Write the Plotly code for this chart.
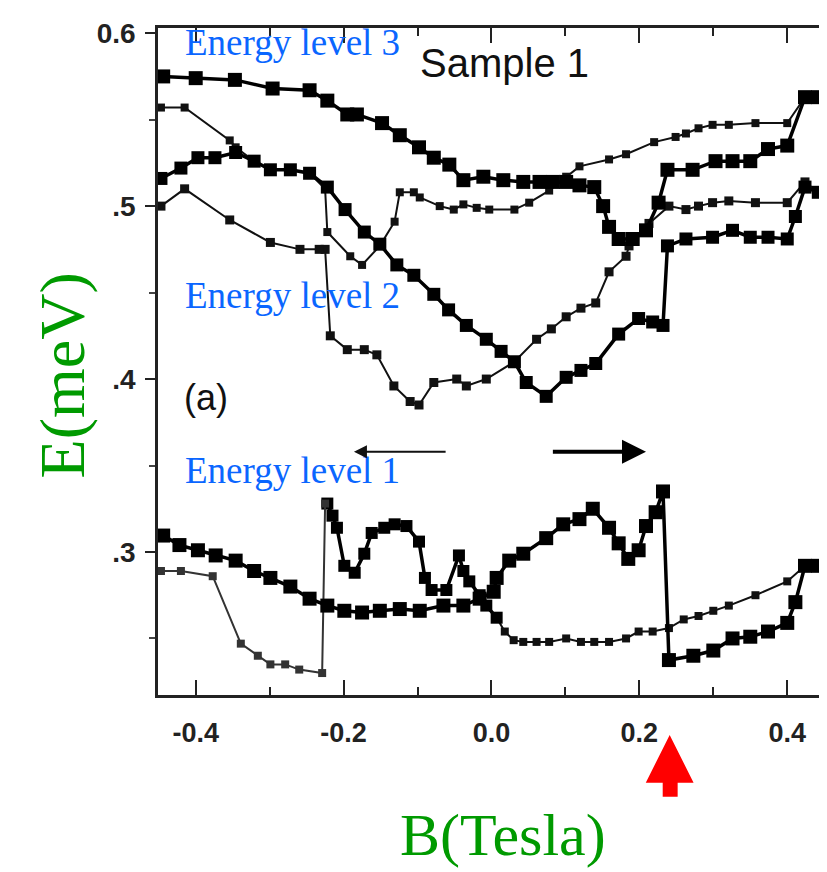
import plotly.graph_objects as go

# ---------------- data ----------------
# Energy level 3, sweep to the right (thick, large squares)
level3_up_x = [-0.444, -0.400, -0.347, -0.296, -0.246, -0.222, -0.195, -0.182, -0.148, -0.124, -0.098, -0.078,
               -0.057, -0.038, -0.011, 0.016, 0.043, 0.065, 0.083, 0.101, 0.119, 0.139, 0.151, 0.159, 0.172,
               0.191, 0.209, 0.226, 0.238, 0.272, 0.303, 0.326, 0.350, 0.374, 0.400, 0.424, 0.442]
level3_up_y = [0.575, 0.574, 0.573, 0.568, 0.567, 0.561, 0.553, 0.553, 0.548, 0.541, 0.534, 0.528,
               0.524, 0.515, 0.517, 0.515, 0.514, 0.514, 0.514, 0.514, 0.512, 0.511, 0.500, 0.488, 0.481,
               0.481, 0.486, 0.502, 0.521, 0.521, 0.526, 0.526, 0.526, 0.533, 0.535, 0.563, 0.563]

# Energy level 3, sweep to the left (thin, small squares)
level3_down_x = [0.442, 0.424, 0.400, 0.357, 0.321, 0.299, 0.280, 0.263, 0.249, 0.220, 0.182, 0.159, 0.119,
                 0.101, 0.078, 0.051, 0.031, -0.003, -0.020, -0.038, -0.051, -0.070, -0.097, -0.105, -0.124,
                 -0.131, -0.151, -0.175, -0.191, -0.222, -0.225, -0.246, -0.272, -0.299, -0.321, -0.346,
                 -0.354, -0.415, -0.447]
level3_down_y = [0.563, 0.563, 0.548, 0.548, 0.547, 0.547, 0.545, 0.542, 0.540, 0.537, 0.530, 0.527, 0.523,
                 0.517, 0.509, 0.502, 0.498, 0.498, 0.499, 0.501, 0.498, 0.500, 0.505, 0.508, 0.508,
                 0.491, 0.477, 0.466, 0.471, 0.485, 0.510, 0.519, 0.521, 0.521, 0.526, 0.534,
                 0.538, 0.557, 0.557]

# Energy level 2, sweep to the right (thick)
level2_up_x = [-0.447, -0.420, -0.397, -0.374, -0.346, -0.321, -0.299, -0.272, -0.246, -0.222, -0.198, -0.172,
               -0.151, -0.128, -0.105, -0.078, -0.058, -0.034, -0.007, 0.013, 0.031, 0.047, 0.074, 0.101,
               0.121, 0.141, 0.172, 0.199, 0.218, 0.232, 0.238, 0.263, 0.299, 0.326, 0.350, 0.374, 0.400,
               0.411, 0.424, 0.442]
level2_up_y = [0.516, 0.522, 0.528, 0.528, 0.531, 0.526, 0.521, 0.521, 0.519, 0.511, 0.498, 0.485,
               0.478, 0.466, 0.460, 0.449, 0.440, 0.431, 0.423, 0.416, 0.410, 0.398, 0.390, 0.401,
               0.405, 0.409, 0.426, 0.435, 0.433, 0.431, 0.477, 0.481, 0.482, 0.486, 0.482, 0.482, 0.481,
               0.494, 0.511, 0.508]

# Energy level 2, sweep to the left (thin)
level2_down_x = [0.442, 0.424, 0.400, 0.357, 0.321, 0.299, 0.280, 0.263, 0.240, 0.213, 0.186, 0.182, 0.159,
                 0.141, 0.121, 0.101, 0.081, 0.061, 0.031, -0.007, -0.034, -0.047, -0.078, -0.098, -0.110,
                 -0.132, -0.155, -0.172, -0.195, -0.218, -0.225, -0.233, -0.259, -0.299, -0.354, -0.415, -0.447]
level2_down_y = [0.508, 0.514, 0.502, 0.502, 0.503, 0.502, 0.500, 0.498, 0.500, 0.490, 0.477, 0.471, 0.462,
                 0.444, 0.441, 0.436, 0.429, 0.423, 0.410, 0.400, 0.396, 0.400, 0.398, 0.385, 0.387,
                 0.396, 0.414, 0.417, 0.417, 0.425, 0.475, 0.475, 0.475, 0.479, 0.492, 0.510, 0.500]

# Energy level 1, sweep to the right (thick)
level1_up_x = [-0.444, -0.422, -0.397, -0.373, -0.346, -0.321, -0.299, -0.272, -0.246, -0.222, -0.199, -0.175,
               -0.151, -0.124, -0.097, -0.065, -0.038, -0.016, 0.003, 0.007, 0.024, 0.043, 0.074, 0.097,
               0.119, 0.137, 0.159, 0.172, 0.185, 0.199, 0.209, 0.222, 0.232, 0.240, 0.273, 0.300, 0.326,
               0.350, 0.374, 0.400, 0.411, 0.424, 0.442]
level1_up_y = [0.3095, 0.304, 0.301, 0.298, 0.295, 0.289, 0.285, 0.280, 0.273, 0.269, 0.266, 0.265,
               0.266, 0.267, 0.266, 0.269, 0.269, 0.273, 0.277, 0.285, 0.295, 0.299, 0.308, 0.316,
               0.319, 0.325, 0.314, 0.305, 0.296, 0.301, 0.315, 0.323, 0.335, 0.2375, 0.240, 0.243, 0.250,
               0.251, 0.254, 0.259, 0.271, 0.292, 0.292]

# Energy level 1, sweep to the left (thin), in three pieces
level1_down_x_a = [0.442, 0.424, 0.400, 0.357, 0.321, 0.300, 0.280, 0.260, 0.240, 0.218, 0.199, 0.182, 0.159,
                   0.139, 0.121, 0.101, 0.078, 0.061, 0.043, 0.030, 0.018, 0.007]
level1_down_y_a = [0.292, 0.292, 0.283, 0.275, 0.269, 0.266, 0.263, 0.261, 0.256, 0.254, 0.254, 0.250, 0.248,
                   0.248, 0.248, 0.250, 0.248, 0.248, 0.248, 0.249, 0.254, 0.262]
level1_down_x_b = [0.007, -0.007, -0.016, -0.030, -0.038, -0.044, -0.061, -0.081, -0.090, -0.098, -0.115,
                   -0.131, -0.145, -0.162, -0.172, -0.185, -0.199, -0.209, -0.215, -0.222]
level1_down_y_b = [0.262, 0.269, 0.275, 0.283, 0.289, 0.298, 0.278, 0.278, 0.285, 0.306, 0.315,
                   0.316, 0.314, 0.311, 0.299, 0.288, 0.292, 0.314, 0.321, 0.328]
level1_down_x_c = [-0.225, -0.229, -0.260, -0.279, -0.299, -0.316, -0.339, -0.377, -0.420, -0.447]
level1_down_y_c = [0.328, 0.230, 0.232, 0.235, 0.235, 0.240, 0.247, 0.286, 0.289, 0.289]

x_tick_values = [-0.4, -0.2, 0.0, 0.2, 0.4]
x_tick_labels = ["-0.4", "-0.2", "0.0", "0.2", "0.4"]
y_tick_values = [0.3, 0.4, 0.5, 0.6]
y_tick_labels = [".3", ".4", ".5", "0.6"]

# ---------------- figure ----------------
fig = go.Figure()

def add(xs, ys, width, size, color="#000000"):
    fig.add_trace(go.Scatter(
        x=xs, y=ys, mode="lines+markers",
        line=dict(color=color, width=width),
        marker=dict(symbol="square", size=size, color=color, line=dict(width=0)),
        hoverinfo="skip", cliponaxis=True))

add(level3_down_x, level3_down_y, 2, 8, "#111111")
add(level2_down_x, level2_down_y, 2, 9, "#111111")
add(level1_down_x_a, level1_down_y_a, 2, 8, "#111111")
add(level1_down_x_b, level1_down_y_b, 3.5, 12)
add(level1_down_x_c, level1_down_y_c, 2, 8, "#333333")
add(level3_up_x, level3_up_y, 3.5, 14)
add(level2_up_x, level2_up_y, 3.5, 13)
add(level1_up_x, level1_up_y, 3.5, 14)

serif = "Liberation Serif, Times New Roman, serif"
sans = "Liberation Sans, Arial, sans-serif"
blue = "#0a66ff"
green = "#009a00"

annotations = [
    dict(x=-0.4175, y=0.5945, xref="x", yref="y", text="Energy level 3", showarrow=False,
         xanchor="left", yanchor="middle", font=dict(family=serif, size=37, color=blue)),
    dict(x=-0.4175, y=0.4482, xref="x", yref="y", text="Energy level 2", showarrow=False,
         xanchor="left", yanchor="middle", font=dict(family=serif, size=37, color=blue)),
    dict(x=-0.4175, y=0.3474, xref="x", yref="y", text="Energy level 1", showarrow=False,
         xanchor="left", yanchor="middle", font=dict(family=serif, size=37, color=blue)),
    dict(x=0.0175, y=0.5825, xref="x", yref="y", text="Sample 1", showarrow=False,
         xanchor="center", yanchor="middle", font=dict(family=sans, size=40, color="#111111")),
    dict(x=-0.3865, y=0.3894, xref="x", yref="y", text="(a)", showarrow=False,
         xanchor="center", yanchor="middle", font=dict(family=sans, size=36, color="#111111")),
    # sweep-direction arrows
    dict(x=-0.186, y=0.358, ax=-0.06, ay=0.358, xref="x", yref="y", axref="x", ayref="y",
         text="", showarrow=True, arrowhead=2, arrowsize=1.3, arrowwidth=2, arrowcolor="#111111"),
    dict(x=0.209, y=0.358, ax=0.081, ay=0.358, xref="x", yref="y", axref="x", ayref="y",
         text="", showarrow=True, arrowhead=2, arrowsize=1.2, arrowwidth=4, arrowcolor="#000000"),
    # axis titles
    dict(x=-0.1424, y=0.4798, xref="paper", yref="paper", text="E(meV)", showarrow=False,
         textangle=-90, xanchor="center", yanchor="middle", font=dict(family=serif, size=64, color=green)),
    dict(x=0.520, y=-0.2095, xref="paper", yref="paper", text="B(Tesla)", showarrow=False,
         xanchor="center", yanchor="middle", font=dict(family=serif, size=60, color=green)),
]

# red up-arrow below the x axis
shapes = [dict(type="path", xref="paper", yref="paper",
               path="M 0.7706 -0.0598 L 0.8066 -0.1316 L 0.7826 -0.1316 L 0.7826 -0.1525 "
                    "L 0.7601 -0.1525 L 0.7601 -0.1316 L 0.7346 -0.1316 Z",
               fillcolor="#ff0000", line=dict(width=0))]

fig.update_layout(
    width=827, height=872,
    margin=dict(l=150, r=10, t=18, b=185),
    paper_bgcolor="white", plot_bgcolor="white",
    showlegend=False,
    annotations=annotations,
    shapes=shapes,
    xaxis=dict(range=[-0.451, 0.447], tickmode="array", tickvals=x_tick_values, ticktext=x_tick_labels,
               ticks="inside", ticklen=15, tickwidth=2, tickcolor="#222222",
               minor=dict(tickmode="linear", tick0=0, dtick=0.1, ticks="inside", ticklen=8,
                          tickwidth=2, tickcolor="#222222"),
               showline=True, linewidth=2.5, linecolor="#222222", mirror="ticks",
               showgrid=False, zeroline=False, ticklabelstandoff=12,
               tickfont=dict(family=sans, size=27, color="#222222", weight="bold")),
    yaxis=dict(range=[0.2173, 0.603], tickmode="array", tickvals=y_tick_values, ticktext=y_tick_labels,
               ticks="outside", ticklen=10, tickwidth=2, tickcolor="#222222",
               minor=dict(tickmode="linear", tick0=0, dtick=0.05, ticks="outside", ticklen=6,
                          tickwidth=2, tickcolor="#444444"),
               showline=True, linewidth=2.5, linecolor="#222222", mirror=True,
               showgrid=False, zeroline=False, ticklabelstandoff=4,
               tickfont=dict(family=sans, size=28, color="#222222", weight="bold")),
)

fig.write_html("out.html")
